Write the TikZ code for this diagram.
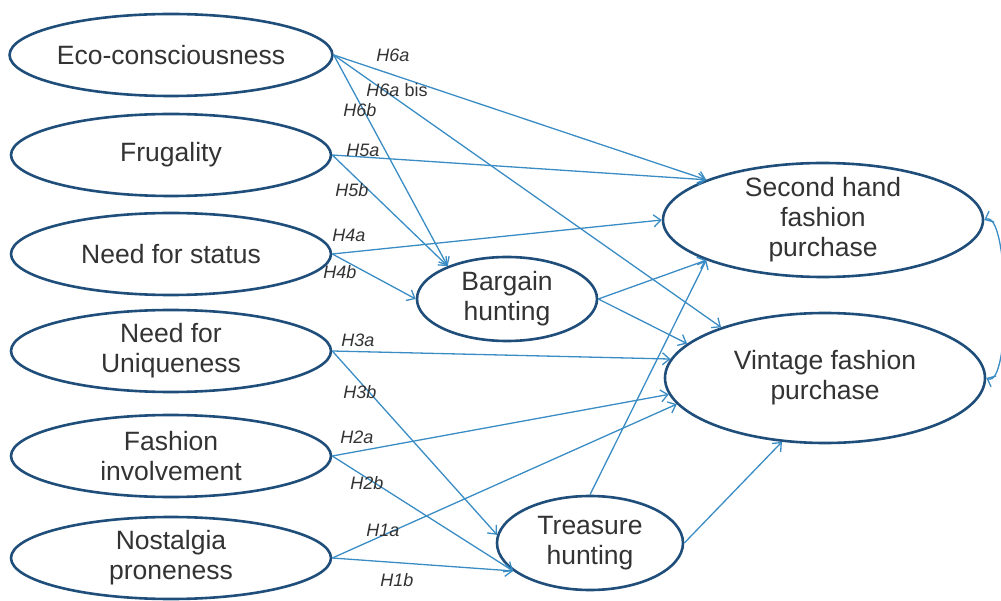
\documentclass[tikz,border=0pt]{standalone}
\usepackage{fontspec}
\setmainfont{Liberation Sans}
\usepackage{xcolor}
\usetikzlibrary{arrows.meta,
                positioning,
                shapes.geometric}

\definecolor{rimblue}{HTML}{1F4E7A}
\definecolor{lineblue}{HTML}{3A8CC4}
\definecolor{txtgray}{HTML}{333333}

\begin{document}
\begin{tikzpicture}[x=1pt,y=-1pt,
  construct/.style={ellipse,draw=rimblue,line width=2.6pt,fill=white,inner sep=0pt,
    align=center,text=txtgray,font=\fontsize{26.5}{30}\selectfont},
  hyp/.style={draw=lineblue,line width=1.3pt,-{Straight Barb[length=7pt,width=12pt]}},
  hlab/.style={text=txtgray,font=\fontsize{18}{20}\selectfont\itshape}]
\useasboundingbox (0,0) rectangle (1001,601);

% antecedents
\foreach \y/\nm/\txt in {55/eco/Eco-consciousness,155/fru/Frugality,254/sta/Need for status,
    351/uni/{Need for\\Uniqueness},456/inv/{Fashion\\involvement},558/nos/{Nostalgia\\proneness}}
  \node[construct,minimum width=320pt,minimum height=82pt] (\nm) at (171,\y) {\txt};

% mediators and outcomes
\node[construct,minimum width=180pt,minimum height=84pt] (bar) at (507,299) {Bargain\\hunting};
\node[construct,minimum width=186pt,minimum height=94pt] (tre) at (590,543) {Treasure\\hunting};
\node[construct,minimum width=320pt,minimum height=114pt,inner ysep=-3pt] (sec) at (823,220) {Second hand\\fashion\\purchase};
\node[construct,minimum width=320pt,minimum height=130pt] (vin) at (825,378) {Vintage fashion\\purchase};

\draw[hyp] (eco.east) -- (sec.161);
\draw[hyp] (eco.east) -- (vin.154);
\draw[hyp] (eco.east) -- (bar.151);
\draw[hyp] (fru.east) -- (sec.161);
\draw[hyp] (fru.east) -- (bar.151);
\draw[hyp] (sta.east) -- (sec.west);
\draw[hyp] (sta.east) -- (bar.west);
\draw[hyp] (bar.east) -- (sec.199);
\draw[hyp] (bar.east) -- (vin.166);
\draw[hyp] (uni.east) -- (vin.173);
\draw[hyp] (uni.east) -- (tre.175);
\draw[hyp] (inv.east) -- (vin.186);
\draw[hyp] (inv.east) -- (tre.200);
\draw[hyp] (nos.east) -- (vin.190);
\draw[hyp] (nos.east) -- (tre.200);
\draw[hyp] (tre.north) -- (sec.199);
\draw[hyp] (tre.east) -- (vin.236);
\draw[hyp,{Straight Barb[length=7pt,width=12pt]}-{Straight Barb[length=7pt,width=12pt]}]
  (sec.east) to[out=25,in=-25,looseness=0.45] (vin.east);

% hypothesis labels
\foreach \x/\y/\nm/\lb in {393/55/h6a/H6a,397/90/h6abis/{H6a \textup{bis}},360/110/h6b/H6b,
    363/150/h5a/H5a,352/190/h5b/H5b,349/235/h4a/H4a,340/272/h4b/H4b,
    358/340/h3a/H3a,360/392/h3b/H3b,357/437/h2a/H2a,367/483/h2b/H2b,
    383/530/h1a/H1a,397/580/h1b/H1b}
  \node[hlab] (\nm) at (\x,\y) {\lb};
\end{tikzpicture}
\end{document}
